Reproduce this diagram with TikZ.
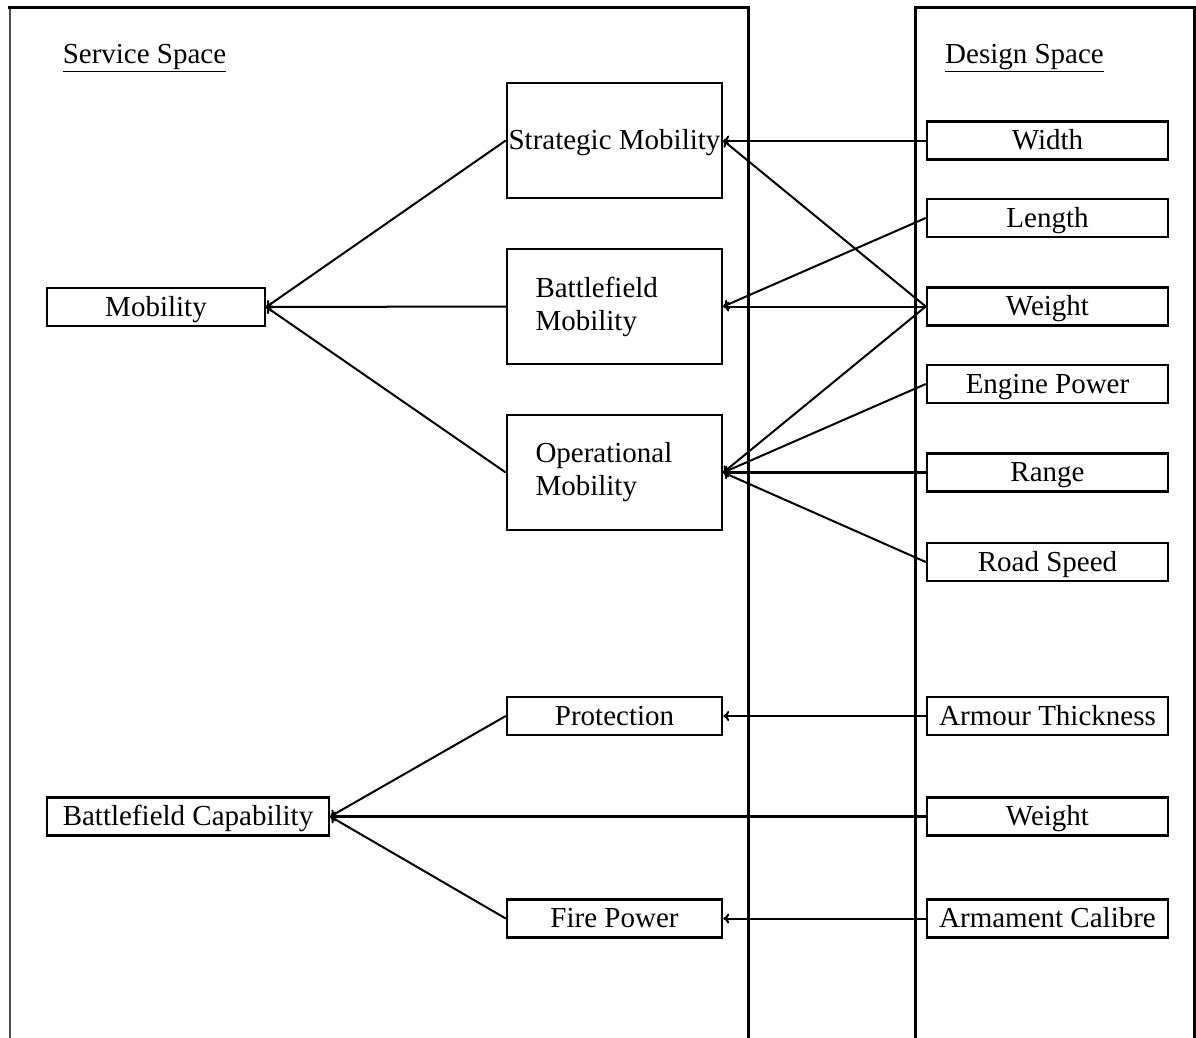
\documentclass[tikz,border=0pt]{standalone}
\usepackage{fontspec}
\setmainfont{Liberation Serif}
\usetikzlibrary{positioning,arrows.meta}

\begin{document}
\begin{tikzpicture}[x=1pt,y=-1pt,
  frame/.style={draw,line width=2.5pt,minimum width=215pt,minimum height=38pt,
    inner sep=0pt,font=\fontsize{29}{33}\selectfont},
  box/.style={frame,text height=20pt,text depth=2pt},
  big box/.style={frame,minimum height=115pt,text width=158pt,align=left},
  design box/.style={box,minimum width=241pt},
  title/.style={font=\fontsize{29}{33}\selectfont},
  link/.style={-{To[length=6pt,width=10pt]},line width=2pt},
  thick link/.style={link,line width=3pt},
  panel/.style={line width=3pt}]

  \useasboundingbox (0,0) rectangle (1196,1038);

  % the two spaces
  \draw[gray!60!black,line width=2pt] (10,8) -- (10,1038);
  \draw[panel] (8,8) -- (748,8) -- (748,1038);
  \draw[panel] (915,1038) -- (915,8) -- (1194,8) -- (1194,1038);
  \node[title] (service) at (144.5,58) {\underline{Service Space}};
  \node[title] (design) at (1024.5,58) {\underline{Design Space}};

  % service space
  \node[box,minimum width=218pt] (mob) at (156,307) {Mobility};
  \node[box,minimum width=282pt] (bcap) at (188,816.5) {Battlefield Capability};
  \node[box,minimum height=115pt] (strat) at (614.5,140.5) {Strategic Mobility};
  \node[big box] (bmob) at (614.5,306.5) {Battlefield\\Mobility};
  \node[big box] (omob) at (614.5,472.5) {Operational\\Mobility};
  \node[box] (prot) at (614.5,716) {Protection};
  \node[box] (fire) at (614.5,918.5) {Fire Power};

  % design space
  \node[design box] (width) at (1047.5,140.5) {Width};
  \node[design box] (length) at (1047.5,218) {Length};
  \node[design box] (weight) at (1047.5,306.5) {Weight};
  \node[design box] (engine) at (1047.5,384) {Engine Power};
  \node[design box] (range) at (1047.5,472.5) {Range};
  \node[design box] (speed) at (1047.5,562) {Road Speed};
  \node[design box] (armour) at (1047.5,716) {Armour Thickness};
  \node[design box] (weight2) at (1047.5,816.5) {Weight};
  \node[design box] (calibre) at (1047.5,918.5) {Armament Calibre};

  \draw[link] (width.west) -- (strat.east);
  \draw[link] (weight.west) -- (strat.east);
  \draw[link] (length.west) -- (bmob.east);
  \draw[link] (weight.west) -- (bmob.east);
  \draw[link] (weight.west) -- (omob.east);
  \draw[link] (engine.west) -- (omob.east);
  \draw[thick link] (range.west) -- (omob.east);
  \draw[link] (speed.west) -- (omob.east);
  \draw[link] (armour.west) -- (prot.east);
  \draw[thick link] (weight2.west) -- (bcap.east);
  \draw[link] (calibre.west) -- (fire.east);

  \draw[link] (strat.west) -- (mob.east);
  \draw[link] (bmob.west) -- (mob.east);
  \draw[link] (omob.west) -- (mob.east);
  \draw[link] (prot.west) -- (bcap.east);
  \draw[link] (fire.west) -- (bcap.east);
\end{tikzpicture}
\end{document}
